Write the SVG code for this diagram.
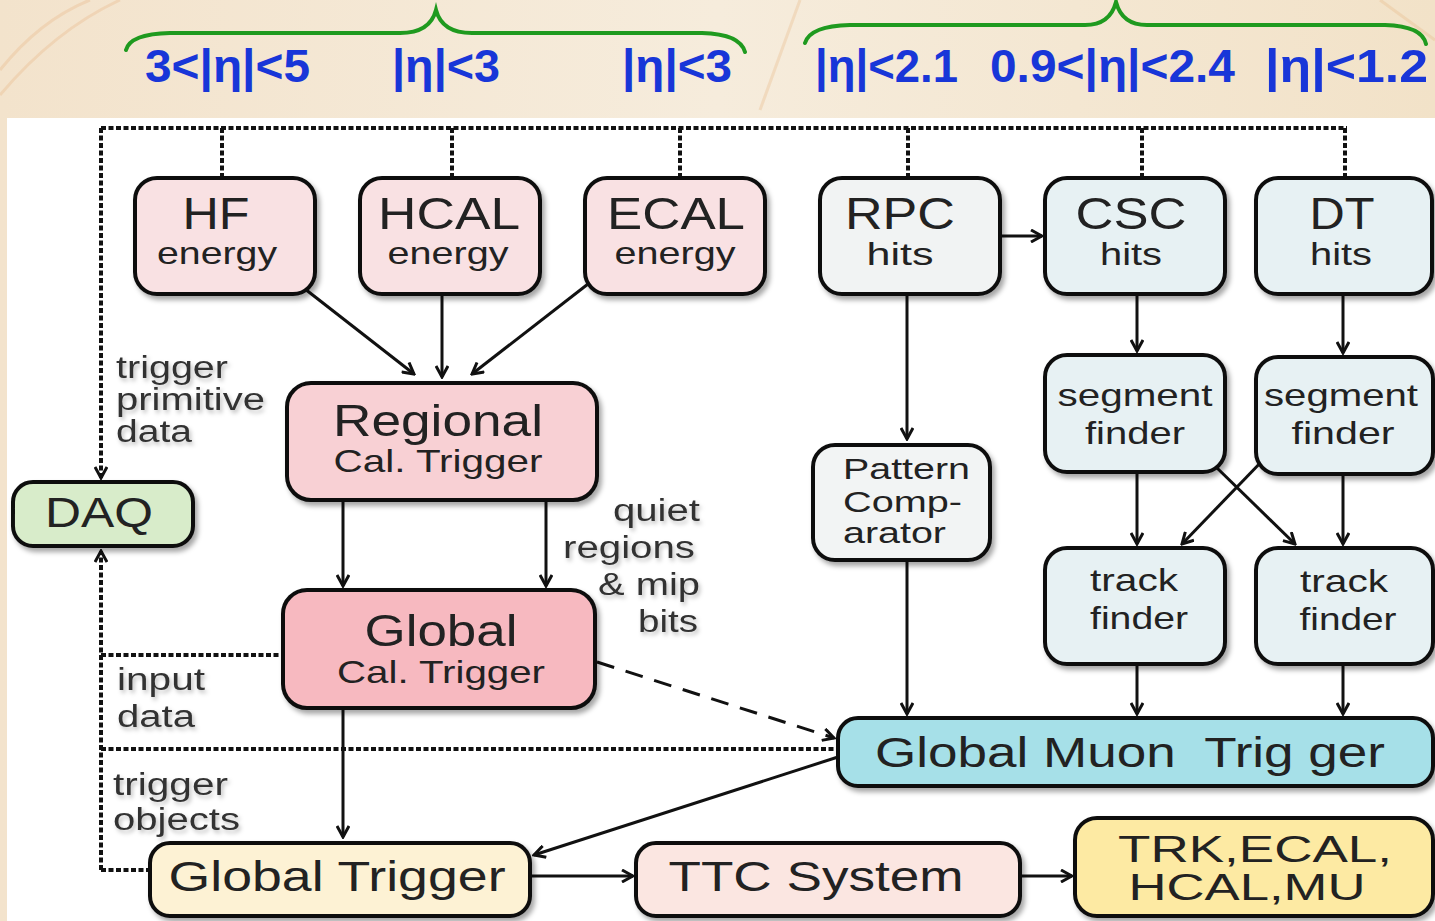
<svg xmlns="http://www.w3.org/2000/svg" width="1435" height="921" viewBox="0 0 1435 921">
<defs>
  <linearGradient id="parch" x1="0" y1="0" x2="1" y2="0">
    <stop offset="0" stop-color="#f3e3cc"/>
    <stop offset="0.5" stop-color="#f6ecdc"/>
    <stop offset="1" stop-color="#f2e2c8"/>
  </linearGradient>
  <filter id="sh" x="-10%" y="-10%" width="130%" height="140%">
    <feDropShadow dx="3" dy="4" stdDeviation="2.5" flood-color="#000" flood-opacity="0.35"/>
  </filter>
  <filter id="tsh" x="-10%" y="-10%" width="130%" height="140%">
    <feDropShadow dx="2" dy="3" stdDeviation="2" flood-color="#000" flood-opacity="0.25"/>
  </filter>
  <marker id="arr" viewBox="0 0 14 14" refX="12" refY="7" markerWidth="14" markerHeight="14" markerUnits="userSpaceOnUse" orient="auto">
    <path d="M1,1 L12,7 L1,13" fill="none" stroke="#111" stroke-width="3"/>
  </marker>
</defs>
<style>
  .box { stroke:#111; stroke-width:4; filter:url(#sh); }
  .t { font-family:"Liberation Sans", Arial, sans-serif; fill:#222; text-anchor:middle; }
  .ts { font-family:"Liberation Sans", Arial, sans-serif; fill:#222; text-anchor:start; }
  .lab { font-family:"Liberation Sans", Arial, sans-serif; fill:#333; font-size:31px; filter:url(#tsh); }
  .eta { font-family:"Liberation Sans Narrow","Liberation Sans", Arial, sans-serif; font-weight:bold; fill:#1836d8; font-size:46px; }
  .brace { fill:none; stroke:#1f9a1f; stroke-width:4; stroke-linecap:round; }
  .ln { fill:none; stroke:#111; stroke-width:3; }
  .dot { fill:none; stroke:#111; stroke-width:4; stroke-dasharray:5 2.5; }
  .dash { fill:none; stroke:#111; stroke-width:3; stroke-dasharray:18 12; }
</style>

<!-- background -->
<rect x="0" y="0" width="1435" height="921" fill="url(#parch)"/>
<g fill="none" stroke="#e9b98a" stroke-width="3" opacity="0.35">
  <path d="M0,70 Q40,20 90,0"/>
  <path d="M0,95 Q55,30 120,0"/>
  <path d="M1380,0 L1435,40"/>
  <path d="M760,110 L800,0"/>
</g>
<rect x="7" y="118" width="1428" height="803" fill="#ffffff"/>

<!-- braces and eta labels -->
<g id="eta-ranges">
  <path class="brace" d="M126,50 Q130,34 170,33 L400,33 Q430,33 436,10 Q442,33 472,33 L702,33 Q740,34 745,52"/>
  <path class="brace" d="M805,43 Q810,26 850,25 L1085,25 Q1110,25 1116,2 Q1122,25 1147,25 L1385,25 Q1422,26 1426,44"/>
  <text class="eta" x="145" y="82" textLength="165" lengthAdjust="spacingAndGlyphs">3&lt;|η|&lt;5</text>
  <text class="eta" x="392" y="82" textLength="108" lengthAdjust="spacingAndGlyphs">|η|&lt;3</text>
  <text class="eta" x="622" y="82" textLength="110" lengthAdjust="spacingAndGlyphs">|η|&lt;3</text>
  <text class="eta" x="815" y="82" textLength="143" lengthAdjust="spacingAndGlyphs">|η|&lt;2.1</text>
  <text class="eta" x="990" y="82" textLength="245" lengthAdjust="spacingAndGlyphs">0.9&lt;|η|&lt;2.4</text>
  <text class="eta" x="1265" y="82" textLength="163" lengthAdjust="spacingAndGlyphs">|η|&lt;1.2</text>
</g>

<!-- connectors -->
<g id="connectors">
  <path class="dot" d="M101,128 L1347,128"/>
  <path class="dot" d="M222,128 V178 M452,128 V178 M680,128 V178 M908,128 V178 M1142,128 V178 M1345,128 V178"/>
  <path class="dot" d="M101,128 V478" marker-end="url(#arr)"/>
  <path class="dot" d="M101,870 V551" marker-end="url(#arr)"/>
  <path class="dot" d="M101,655 H283"/>
  <path class="dot" d="M101,749 H836"/>
  <path class="dot" d="M101,870 H150"/>
  <path class="ln" d="M305,289 L414,374" marker-end="url(#arr)"/>
  <path class="ln" d="M442,294 V377" marker-end="url(#arr)"/>
  <path class="ln" d="M588,284 L472,374" marker-end="url(#arr)"/>
  <path class="ln" d="M343,500 V586" marker-end="url(#arr)"/>
  <path class="ln" d="M546,500 V586" marker-end="url(#arr)"/>
  <path class="ln" d="M343,708 V837" marker-end="url(#arr)"/>
  <path class="dash" d="M597,662 L834,738" marker-end="url(#arr)"/>
  <path class="ln" d="M907,294 V439" marker-end="url(#arr)"/>
  <path class="ln" d="M1000,236 H1042" marker-end="url(#arr)"/>
  <path class="ln" d="M1137,294 V351" marker-end="url(#arr)"/>
  <path class="ln" d="M1343,294 V353" marker-end="url(#arr)"/>
  <path class="ln" d="M1137,472 V544" marker-end="url(#arr)"/>
  <path class="ln" d="M1343,474 V544" marker-end="url(#arr)"/>
  <path class="ln" d="M1215,466 L1295,544" marker-end="url(#arr)"/>
  <path class="ln" d="M1265,458 L1182,544" marker-end="url(#arr)"/>
  <path class="ln" d="M907,560 V714" marker-end="url(#arr)"/>
  <path class="ln" d="M1137,664 V714" marker-end="url(#arr)"/>
  <path class="ln" d="M1343,664 V714" marker-end="url(#arr)"/>
  <path class="ln" d="M838,757 L534,855" marker-end="url(#arr)"/>
  <path class="ln" d="M530,876 H633" marker-end="url(#arr)"/>
  <path class="ln" d="M1020,876 H1072" marker-end="url(#arr)"/>
</g>

<!-- connector labels -->
<g id="labels">
  <text class="lab" x="116" y="378" textLength="112" lengthAdjust="spacingAndGlyphs">trigger</text>
  <text class="lab" x="116" y="410" textLength="149" lengthAdjust="spacingAndGlyphs">primitive</text>
  <text class="lab" x="116" y="442" textLength="76" lengthAdjust="spacingAndGlyphs">data</text>
  <text class="lab" x="613" y="521" textLength="87" lengthAdjust="spacingAndGlyphs">quiet</text>
  <text class="lab" x="563" y="558" textLength="132" lengthAdjust="spacingAndGlyphs">regions</text>
  <text class="lab" x="598" y="595" textLength="102" lengthAdjust="spacingAndGlyphs">&amp; mip</text>
  <text class="lab" x="638" y="632" textLength="60" lengthAdjust="spacingAndGlyphs">bits</text>
  <text class="lab" x="117" y="690" textLength="88" lengthAdjust="spacingAndGlyphs">input</text>
  <text class="lab" x="117" y="727" textLength="78" lengthAdjust="spacingAndGlyphs">data</text>
  <text class="lab" x="113" y="795" textLength="115" lengthAdjust="spacingAndGlyphs">trigger</text>
  <text class="lab" x="113" y="830" textLength="127" lengthAdjust="spacingAndGlyphs">objects</text>
</g>

<!-- nodes -->
<g id="hf">
  <rect class="box" x="135" y="178" width="180" height="116" rx="22" fill="#f9e1e3"/>
  <text class="t" x="216" y="229" font-size="44" textLength="67" lengthAdjust="spacingAndGlyphs">HF</text>
  <text class="t" x="217" y="264" font-size="32" textLength="120" lengthAdjust="spacingAndGlyphs">energy</text>
</g>
<g id="hcal">
  <rect class="box" x="360" y="178" width="180" height="116" rx="22" fill="#f9e1e3"/>
  <text class="t" x="449" y="229" font-size="44" textLength="142" lengthAdjust="spacingAndGlyphs">HCAL</text>
  <text class="t" x="448" y="264" font-size="32" textLength="121" lengthAdjust="spacingAndGlyphs">energy</text>
</g>
<g id="ecal">
  <rect class="box" x="585" y="178" width="180" height="116" rx="22" fill="#f9e1e3"/>
  <text class="t" x="676" y="229" font-size="44" textLength="138" lengthAdjust="spacingAndGlyphs">ECAL</text>
  <text class="t" x="675" y="264" font-size="32" textLength="121" lengthAdjust="spacingAndGlyphs">energy</text>
</g>
<g id="rpc">
  <rect class="box" x="820" y="178" width="180" height="116" rx="22" fill="#f1f3f3"/>
  <text class="t" x="900" y="229" font-size="44" textLength="110" lengthAdjust="spacingAndGlyphs">RPC</text>
  <text class="t" x="900" y="265" font-size="32" textLength="67" lengthAdjust="spacingAndGlyphs">hits</text>
</g>
<g id="csc">
  <rect class="box" x="1045" y="178" width="180" height="116" rx="22" fill="#e7f1f3"/>
  <text class="t" x="1131" y="229" font-size="44" textLength="111" lengthAdjust="spacingAndGlyphs">CSC</text>
  <text class="t" x="1131" y="265" font-size="32" textLength="62" lengthAdjust="spacingAndGlyphs">hits</text>
</g>
<g id="dt">
  <rect class="box" x="1256" y="178" width="176" height="116" rx="22" fill="#e7f1f3"/>
  <text class="t" x="1342" y="229" font-size="44" textLength="65" lengthAdjust="spacingAndGlyphs">DT</text>
  <text class="t" x="1341" y="265" font-size="32" textLength="62" lengthAdjust="spacingAndGlyphs">hits</text>
</g>
<g id="regional">
  <rect class="box" x="287" y="383" width="310" height="117" rx="24" fill="#f8d0d4"/>
  <text class="t" x="438" y="436" font-size="44" textLength="210" lengthAdjust="spacingAndGlyphs">Regional</text>
  <text class="t" x="438" y="472" font-size="32" textLength="209" lengthAdjust="spacingAndGlyphs">Cal. Trigger</text>
</g>
<g id="daq">
  <rect class="box" x="13" y="482" width="180" height="64" rx="20" fill="#d8ecca"/>
  <text class="t" x="99" y="527" font-size="42" textLength="108" lengthAdjust="spacingAndGlyphs">DAQ</text>
</g>
<g id="gct">
  <rect class="box" x="283" y="590" width="312" height="118" rx="24" fill="#f7b9c0"/>
  <text class="t" x="441" y="646" font-size="44" textLength="153" lengthAdjust="spacingAndGlyphs">Global</text>
  <text class="t" x="441" y="683" font-size="32" textLength="208" lengthAdjust="spacingAndGlyphs">Cal. Trigger</text>
</g>
<g id="pattern">
  <rect class="box" x="813" y="445" width="177" height="115" rx="22" fill="#f2f4f4"/>
  <text class="ts" x="843" y="479" font-size="29" textLength="127" lengthAdjust="spacingAndGlyphs">Pattern</text>
  <text class="ts" x="843" y="512" font-size="29" textLength="119" lengthAdjust="spacingAndGlyphs">Comp-</text>
  <text class="ts" x="843" y="543" font-size="29" textLength="103" lengthAdjust="spacingAndGlyphs">arator</text>
</g>
<g id="seg-csc">
  <rect class="box" x="1045" y="355" width="180" height="117" rx="22" fill="#e7f1f3"/>
  <text class="t" x="1135" y="406" font-size="32" textLength="155" lengthAdjust="spacingAndGlyphs">segment</text>
  <text class="t" x="1135" y="444" font-size="32" textLength="100" lengthAdjust="spacingAndGlyphs">finder</text>
</g>
<g id="seg-dt">
  <rect class="box" x="1256" y="357" width="177" height="117" rx="22" fill="#e7f1f3"/>
  <text class="t" x="1341" y="406" font-size="32" textLength="154" lengthAdjust="spacingAndGlyphs">segment</text>
  <text class="t" x="1343" y="444" font-size="32" textLength="103" lengthAdjust="spacingAndGlyphs">finder</text>
</g>
<g id="track-csc">
  <rect class="box" x="1045" y="548" width="180" height="116" rx="22" fill="#e7f1f3"/>
  <text class="t" x="1134" y="591" font-size="32" textLength="88" lengthAdjust="spacingAndGlyphs">track</text>
  <text class="t" x="1139" y="629" font-size="32" textLength="98" lengthAdjust="spacingAndGlyphs">finder</text>
</g>
<g id="track-dt">
  <rect class="box" x="1256" y="548" width="177" height="116" rx="22" fill="#e7f1f3"/>
  <text class="t" x="1344" y="592" font-size="32" textLength="88" lengthAdjust="spacingAndGlyphs">track</text>
  <text class="t" x="1348" y="630" font-size="32" textLength="97" lengthAdjust="spacingAndGlyphs">finder</text>
</g>
<g id="gmt">
  <rect class="box" x="838" y="718" width="595" height="68" rx="20" fill="#a6e0e8"/>
  <text class="t" x="1130" y="767" font-size="42" style="white-space:pre" textLength="510" lengthAdjust="spacingAndGlyphs">Global Muon  Trig ger</text>
</g>
<g id="gt">
  <rect class="box" x="150" y="843" width="380" height="73" rx="20" fill="#fdf2d4"/>
  <text class="t" x="337" y="891" font-size="42" textLength="337" lengthAdjust="spacingAndGlyphs">Global Trigger</text>
</g>
<g id="ttc">
  <rect class="box" x="636" y="843" width="384" height="73" rx="20" fill="#fbe6e1"/>
  <text class="t" x="816" y="891" font-size="42" textLength="295" lengthAdjust="spacingAndGlyphs">TTC System</text>
</g>
<g id="trk">
  <rect class="box" x="1075" y="818" width="358" height="98" rx="22" fill="#fdeaa3"/>
  <text class="t" x="1255" y="862" font-size="37" textLength="274" lengthAdjust="spacingAndGlyphs">TRK,ECAL,</text>
  <text class="t" x="1247" y="900" font-size="37" textLength="237" lengthAdjust="spacingAndGlyphs">HCAL,MU</text>
</g>
</svg>
